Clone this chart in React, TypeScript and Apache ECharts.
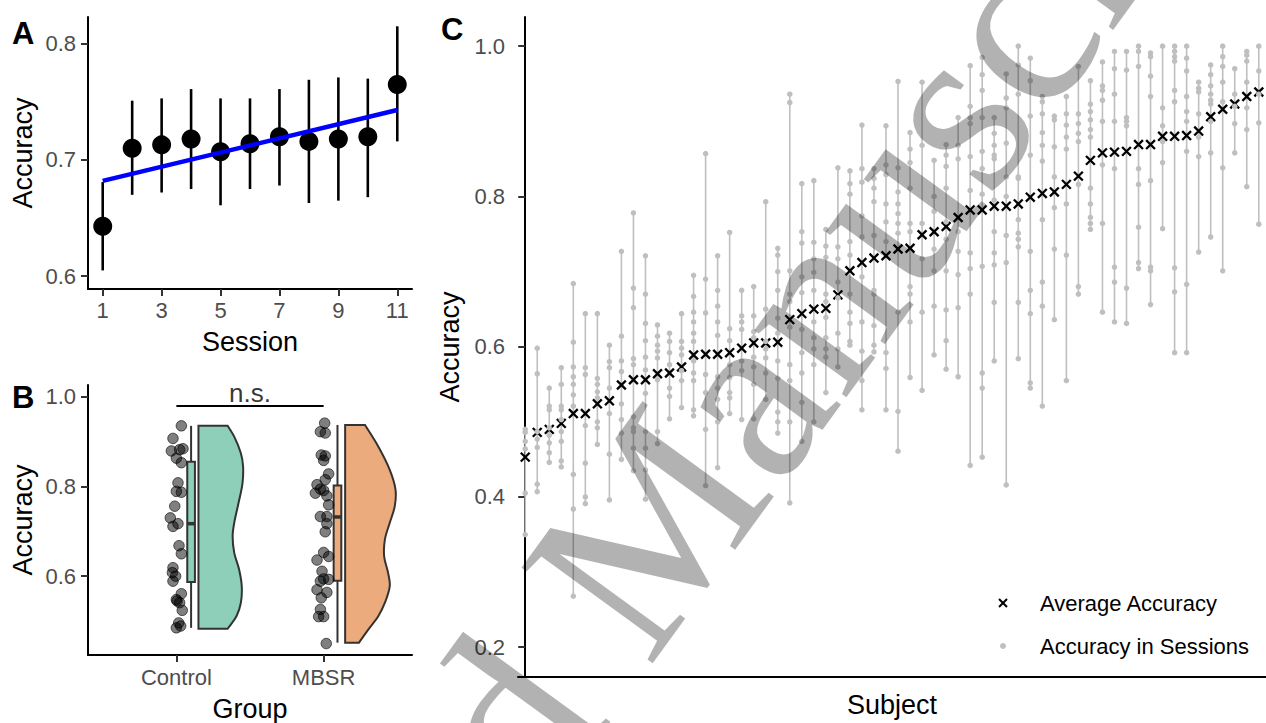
import React, { useEffect, useRef } from "react";
import * as echarts from "echarts";

const FONT = '"Liberation Sans", Arial, Helvetica, sans-serif';

// ---------- Panel A: accuracy by session ----------
const sessions = [1, 2, 3, 4, 5, 6, 7, 8, 9, 10, 11];
const sessionMean = [0.643, 0.71, 0.713, 0.718, 0.707, 0.714, 0.72, 0.716, 0.718, 0.72, 0.765];
const sessionLow = [0.605, 0.67, 0.672, 0.675, 0.661, 0.675, 0.678, 0.663, 0.665, 0.668, 0.716];
const sessionHigh = [0.681, 0.751, 0.753, 0.761, 0.753, 0.753, 0.761, 0.769, 0.771, 0.77, 0.815];
const trendLine = [
  [1, 0.682],
  [11, 0.743],
];
const sessionTicks = [1, 3, 5, 7, 9, 11];
const accTicksA = [0.6, 0.7, 0.8];

// ---------- Panel B: accuracy by group ----------
const groups = ["Control", "MBSR"];
// [jittered group position, accuracy]
const controlAcc = [
  [1.034, 0.935], [0.977, 0.907], [0.966, 0.879], [1.022, 0.882], [1.045, 0.884],
  [1.0, 0.863], [1.034, 0.853], [1.011, 0.808], [1.0, 0.789], [1.034, 0.787],
  [0.989, 0.756], [0.959, 0.73], [0.977, 0.711], [1.011, 0.717], [1.018, 0.668],
  [1.034, 0.65], [0.977, 0.619], [0.995, 0.6], [0.977, 0.589], [0.973, 0.608],
  [1.034, 0.561], [1.0, 0.548], [1.022, 0.541], [1.005, 0.545], [1.04, 0.524],
  [1.016, 0.496], [1.0, 0.485], [1.029, 0.489],
];
const mbsrAcc = [
  [2.007, 0.941], [1.978, 0.922], [2.011, 0.919], [1.984, 0.87], [2.011, 0.868],
  [2.0, 0.858], [2.034, 0.828], [2.011, 0.815], [1.955, 0.804], [1.978, 0.794],
  [2.0, 0.791], [1.944, 0.785], [2.022, 0.779], [2.034, 0.759], [1.978, 0.733],
  [2.022, 0.733], [2.022, 0.717], [2.011, 0.699], [2.0, 0.653], [2.034, 0.644],
  [1.955, 0.636], [1.989, 0.611], [2.0, 0.594], [1.978, 0.589], [2.034, 0.593],
  [1.955, 0.57], [2.022, 0.564], [1.984, 0.552], [1.978, 0.526], [1.966, 0.51],
  [2.0, 0.51], [2.018, 0.45],
];
// whisker low, q1, median, q3, whisker high
const controlBox = [0.485, 0.587, 0.717, 0.855, 0.935];
const mbsrBox = [0.452, 0.59, 0.732, 0.802, 0.937];
// [accuracy, half-violin density width]
const controlViolin = [
  [0.935, 0.198], [0.911, 0.243], [0.874, 0.288], [0.845, 0.303], [0.807, 0.299],
  [0.763, 0.272], [0.719, 0.243], [0.689, 0.232], [0.652, 0.243], [0.615, 0.276],
  [0.578, 0.294], [0.541, 0.288], [0.511, 0.258], [0.483, 0.198],
];
const mbsrViolin = [
  [0.937, 0.135], [0.889, 0.225], [0.837, 0.303], [0.793, 0.342], [0.756, 0.337],
  [0.719, 0.303], [0.682, 0.27], [0.644, 0.265], [0.607, 0.292], [0.578, 0.303],
  [0.541, 0.27], [0.511, 0.225], [0.481, 0.157], [0.452, 0.094],
];
const nsBracket = [
  [1, 0.979],
  [2, 0.979],
];
const accTicksB = [0.6, 0.8, 1.0];

// ---------- Panel C: accuracy per subject ----------
const subjectMean = [
  0.453, 0.486, 0.49, 0.498, 0.511, 0.511, 0.524, 0.528, 0.549, 0.556,
  0.556, 0.564, 0.565, 0.573, 0.589, 0.59, 0.59, 0.592, 0.598, 0.605,
  0.605, 0.606, 0.636, 0.644, 0.65, 0.651, 0.669, 0.701, 0.712, 0.718,
  0.721, 0.73, 0.731, 0.749, 0.753, 0.76, 0.772, 0.782, 0.782, 0.787,
  0.787, 0.79, 0.799, 0.804, 0.806, 0.816, 0.827, 0.848, 0.858, 0.859,
  0.86, 0.869, 0.869, 0.88, 0.88, 0.881, 0.887, 0.906, 0.916, 0.923,
  0.933, 0.939,
];
const subjectSessions = [
  [0.49, 0.486, 0.474, 0.464, 0.405, 0.35],
  [0.598, 0.564, 0.487, 0.477, 0.466, 0.417, 0.407],
  [0.545, 0.521, 0.516, 0.492, 0.482, 0.472, 0.459, 0.446],
  [0.572, 0.55, 0.521, 0.516, 0.503, 0.487, 0.474, 0.448, 0.44],
  [0.684, 0.606, 0.573, 0.56, 0.55, 0.536, 0.521, 0.43, 0.384, 0.268],
  [0.644, 0.572, 0.563, 0.495, 0.445, 0.4, 0.391],
  [0.644, 0.558, 0.55, 0.54, 0.532, 0.5, 0.492, 0.47],
  [0.602, 0.58, 0.572, 0.545, 0.511, 0.457, 0.396],
  [0.727, 0.614, 0.581, 0.567, 0.524, 0.503, 0.485, 0.45],
  [0.778, 0.678, 0.652, 0.584, 0.576, 0.507, 0.492, 0.487, 0.465, 0.435],
  [0.721, 0.67, 0.631, 0.608, 0.586, 0.569, 0.538, 0.487, 0.465, 0.436, 0.397],
  [0.629, 0.614, 0.602, 0.594, 0.585, 0.556, 0.487, 0.471],
  [0.618, 0.607, 0.592, 0.576, 0.545, 0.534, 0.504],
  [0.644, 0.607, 0.598, 0.589, 0.568, 0.555, 0.519],
  [0.695, 0.667, 0.646, 0.633, 0.618, 0.607, 0.581, 0.565, 0.555, 0.516, 0.508],
  [0.857, 0.69, 0.645, 0.563, 0.539, 0.49, 0.415],
  [0.721, 0.675, 0.654, 0.633, 0.615, 0.56, 0.545, 0.53, 0.5, 0.439],
  [0.752, 0.624, 0.608, 0.576, 0.559, 0.539, 0.532, 0.511],
  [0.675, 0.641, 0.633, 0.623, 0.581, 0.568, 0.503],
  [0.68, 0.641, 0.62, 0.612, 0.586, 0.573, 0.55, 0.504],
  [0.793, 0.65, 0.607, 0.597, 0.585, 0.565, 0.53],
  [0.731, 0.722, 0.7, 0.675, 0.638, 0.618, 0.581, 0.558, 0.513, 0.5, 0.485],
  [0.936, 0.925, 0.701, 0.67, 0.66, 0.626, 0.576, 0.555, 0.5, 0.392],
  [0.817, 0.753, 0.738, 0.693, 0.672, 0.623, 0.592, 0.565, 0.526, 0.474],
  [0.821, 0.739, 0.717, 0.699, 0.675, 0.633, 0.612, 0.597, 0.576, 0.5],
  [0.756, 0.734, 0.719, 0.67, 0.66, 0.639, 0.612, 0.597, 0.586, 0.539],
  [0.838, 0.733, 0.717, 0.686, 0.665, 0.618, 0.597, 0.573],
  [0.834, 0.817, 0.803, 0.74, 0.722, 0.67, 0.646, 0.631, 0.607, 0.602],
  [0.895, 0.837, 0.819, 0.774, 0.746, 0.693, 0.633, 0.594, 0.555, 0.516],
  [0.837, 0.824, 0.811, 0.793, 0.748, 0.675, 0.67, 0.628, 0.602, 0.593],
  [0.894, 0.842, 0.829, 0.79, 0.766, 0.74, 0.592, 0.571, 0.516],
  [0.953, 0.838, 0.806, 0.79, 0.777, 0.764, 0.751, 0.646, 0.514, 0.461],
  [0.885, 0.863, 0.845, 0.811, 0.764, 0.753, 0.68, 0.67, 0.633, 0.559],
  [0.952, 0.868, 0.764, 0.717, 0.646, 0.542],
  [0.848, 0.8, 0.78, 0.73, 0.701, 0.654, 0.589],
  [0.869, 0.855, 0.84, 0.811, 0.766, 0.743, 0.701, 0.649, 0.608, 0.57],
  [0.905, 0.868, 0.85, 0.753, 0.727, 0.696, 0.652, 0.56],
  [0.974, 0.92, 0.905, 0.897, 0.853, 0.808, 0.725, 0.704, 0.67, 0.442],
  [0.985, 0.962, 0.941, 0.905, 0.86, 0.837, 0.803, 0.707, 0.565, 0.545, 0.453],
  [0.905, 0.884, 0.868, 0.855, 0.85, 0.795, 0.753, 0.725, 0.709, 0.659, 0.581],
  [0.963, 0.931, 0.918, 0.871, 0.826, 0.8, 0.748, 0.712, 0.416],
  [1.0, 0.975, 0.936, 0.826, 0.824, 0.769, 0.751, 0.743, 0.733, 0.659, 0.584],
  [0.984, 0.954, 0.907, 0.855, 0.727, 0.675, 0.644, 0.552, 0.545],
  [0.933, 0.926, 0.91, 0.885, 0.868, 0.847, 0.769, 0.686, 0.654, 0.521],
  [0.907, 0.902, 0.866, 0.826, 0.785, 0.73, 0.636],
  [0.933, 0.91, 0.895, 0.879, 0.863, 0.79, 0.722, 0.555],
  [0.973, 0.91, 0.897, 0.884, 0.873, 0.816, 0.68, 0.67],
  [0.954, 0.923, 0.913, 0.902, 0.889, 0.879, 0.811, 0.79, 0.772, 0.764, 0.756],
  [0.979, 0.947, 0.941, 0.928, 0.9, 0.842, 0.764, 0.646],
  [0.993, 0.97, 0.936, 0.9, 0.837, 0.706, 0.686, 0.633],
  [0.993, 0.968, 0.905, 0.9, 0.894, 0.678, 0.631],
  [1.0, 0.993, 0.973, 0.837, 0.816, 0.759, 0.712, 0.704],
  [0.991, 0.986, 0.96, 0.933, 0.821, 0.706, 0.701, 0.656],
  [1.0, 0.918, 0.894, 0.873, 0.845, 0.757],
  [1.0, 0.993, 0.986, 0.98, 0.941, 0.926, 0.705, 0.673, 0.592],
  [1.0, 0.984, 0.967, 0.933, 0.913, 0.9, 0.86, 0.683, 0.592],
  [0.952, 0.944, 0.939, 0.91, 0.879, 0.853, 0.726],
  [0.975, 0.962, 0.947, 0.936, 0.928, 0.923, 0.9, 0.858, 0.746],
  [1.0, 0.986, 0.973, 0.952, 0.926, 0.838, 0.701],
  [0.97, 0.936, 0.92, 0.897, 0.858],
  [0.993, 0.988, 0.98, 0.952, 0.918, 0.889, 0.813],
  [1.0, 0.967, 0.936, 0.898, 0.763],
];
const accTicksC = [0.2, 0.4, 0.6, 0.8, 1.0];
const legendLabels = ["Average Accuracy", "Accuracy in Sessions"];
const watermarkWords = ["Accepted ", "Manuscript"];

const GRAY = "#bfbfbf";
const INK = "#333333";
const FILLS = ["#8dcfb9", "#ecab7c"];

function buildOption() {
  const axisLine = { show: true, lineStyle: { color: "#000", width: 2 } };
  const tick = (vals: number[]) => ({
    show: true,
    length: 7,
    lineStyle: { color: INK, width: 2 },
    customValues: vals,
  });
  const label = (vals: number[], margin: number, fmt: (v: number) => string) => ({
    show: true,
    color: "#4d4d4d",
    fontSize: 22,
    fontFamily: FONT,
    margin,
    customValues: vals,
    formatter: fmt,
  });
  const title = { color: "#000", fontSize: 27, fontFamily: FONT };
  const f1 = (v: number) => v.toFixed(1);

  const errData = sessions.map((s, i) => [s, sessionLow[i], sessionHigh[i]]);
  const meanA = sessions.map((s, i) => [s, sessionMean[i]]);

  const violins = [controlViolin, mbsrViolin];
  const boxes = [controlBox, mbsrBox];

  const rangeData = subjectSessions.map((s, i) => [i, Math.min(...s), Math.max(...s)]);
  const dotData: number[][] = [];
  subjectSessions.forEach((s, i) => s.forEach((v) => dotData.push([i, v])));
  const meanC = subjectMean.map((m, i) => [i, m]);

  const theta = (54 * Math.PI) / 180;
  const wmFont = `248px "Liberation Serif", "DejaVu Serif", serif`;
  const wmX = 581;
  const wmY = 620;

  return {
    animation: false,
    backgroundColor: "#ffffff",
    textStyle: { fontFamily: FONT },
    grid: [
      { left: 88, top: 17, width: 324, height: 272 },
      { left: 88, top: 385, width: 324, height: 271 },
      { left: 518, top: 17, width: 748, height: 666 },
    ],
    xAxis: [
      {
        gridIndex: 0,
        type: "value",
        min: 0.5,
        max: 11.5,
        axisLine,
        axisTick: tick(sessionTicks),
        axisLabel: label(sessionTicks, 10, (v: number) => String(v)),
        splitLine: { show: false },
        name: "Session",
        nameLocation: "middle",
        nameGap: 39,
        nameTextStyle: title,
      },
      {
        gridIndex: 1,
        type: "value",
        min: 0.4,
        max: 2.6,
        axisLine,
        axisTick: tick([1, 2]),
        axisLabel: label([1, 2], 11, (v: number) => groups[Math.round(v) - 1] || ""),
        splitLine: { show: false },
        name: "Group",
        nameLocation: "middle",
        nameGap: 40,
        nameTextStyle: title,
      },
      {
        gridIndex: 2,
        type: "value",
        min: -0.6,
        max: subjectMean.length - 1 + 0.6,
        axisLine,
        axisTick: { show: false },
        axisLabel: { show: false },
        splitLine: { show: false },
        name: "Subject",
        nameLocation: "middle",
        nameGap: 14,
        nameTextStyle: title,
      },
    ],
    yAxis: [
      {
        gridIndex: 0,
        type: "value",
        min: 0.589,
        max: 0.823,
        axisLine,
        axisTick: tick(accTicksA),
        axisLabel: label(accTicksA, 12, f1),
        splitLine: { show: false },
        name: "Accuracy",
        nameLocation: "middle",
        nameRotate: 90,
        nameGap: 52,
        nameTextStyle: title,
      },
      {
        gridIndex: 1,
        type: "value",
        min: 0.4245,
        max: 1.026,
        axisLine,
        axisTick: tick(accTicksB),
        axisLabel: label(accTicksB, 12, f1),
        splitLine: { show: false },
        name: "Accuracy",
        nameLocation: "middle",
        nameRotate: 90,
        nameGap: 52,
        nameTextStyle: title,
      },
      {
        gridIndex: 2,
        type: "value",
        min: 0.1604,
        max: 1.0388,
        axisLine,
        axisTick: tick(accTicksC),
        axisLabel: label(accTicksC, 13, f1),
        splitLine: { show: false },
        name: "Accuracy",
        nameLocation: "middle",
        nameRotate: 90,
        nameGap: 52,
        nameTextStyle: title,
      },
    ],
    series: [
      // ----- Panel A -----
      {
        type: "custom",
        xAxisIndex: 0,
        yAxisIndex: 0,
        silent: true,
        data: errData,
        renderItem: (_p: any, api: any) => {
          const a = api.coord([api.value(0), api.value(1)]);
          const b = api.coord([api.value(0), api.value(2)]);
          return {
            type: "line",
            shape: { x1: a[0], y1: a[1], x2: b[0], y2: b[1] },
            style: { stroke: "#000", lineWidth: 2.6 },
          };
        },
      },
      {
        type: "line",
        xAxisIndex: 0,
        yAxisIndex: 0,
        silent: true,
        data: trendLine,
        symbol: "none",
        lineStyle: { color: "#0000ff", width: 4.5 },
      },
      {
        type: "scatter",
        xAxisIndex: 0,
        yAxisIndex: 0,
        silent: true,
        data: meanA,
        symbolSize: 19,
        itemStyle: { color: "#000", opacity: 1 },
      },
      // ----- Panel B -----
      {
        type: "custom",
        xAxisIndex: 1,
        yAxisIndex: 1,
        silent: true,
        data: [[0], [1]],
        renderItem: (p: any, api: any) => {
          const g = p.dataIndex;
          const base = g + 1 + (g === 0 ? 0.15 : 0.146);
          const prof = violins[g];
          const top = api.coord([base, prof[0][0]]);
          const bot = api.coord([base, prof[prof.length - 1][0]]);
          const right = prof.map(([v, w]) => api.coord([base + w, v]));
          const pts = [top, top, right[0], ...right, right[right.length - 1], bot, bot];
          return {
            type: "polygon",
            shape: { points: pts, smooth: 0.35 },
            style: { fill: FILLS[g], stroke: INK, lineWidth: 2 },
          };
        },
      },
      {
        type: "custom",
        xAxisIndex: 1,
        yAxisIndex: 1,
        silent: true,
        data: [[0], [1]],
        renderItem: (p: any, api: any) => {
          const g = p.dataIndex;
          const c = g + 1 + (g === 0 ? 0.1 : 0.094);
          const hw = 0.026;
          const [lo, q1, med, q3, hi] = boxes[g];
          const wTop = api.coord([c, hi]);
          const wBot = api.coord([c, lo]);
          const tl = api.coord([c - hw, q3]);
          const br = api.coord([c + hw, q1]);
          const ml = api.coord([c - hw, med]);
          const mr = api.coord([c + hw, med]);
          return {
            type: "group",
            children: [
              {
                type: "line",
                shape: { x1: wTop[0], y1: wTop[1], x2: wBot[0], y2: wBot[1] },
                style: { stroke: INK, lineWidth: 2 },
              },
              {
                type: "rect",
                shape: { x: tl[0], y: tl[1], width: br[0] - tl[0], height: br[1] - tl[1] },
                style: { fill: FILLS[g], stroke: INK, lineWidth: 2 },
              },
              {
                type: "line",
                shape: { x1: ml[0], y1: ml[1], x2: mr[0], y2: mr[1] },
                style: { stroke: INK, lineWidth: 3.5 },
              },
            ],
          };
        },
      },
      {
        type: "scatter",
        xAxisIndex: 1,
        yAxisIndex: 1,
        silent: true,
        data: [...controlAcc, ...mbsrAcc],
        symbolSize: 10.5,
        itemStyle: {
          color: "rgba(0,0,0,0.5)",
          borderColor: "rgba(0,0,0,0.6)",
          borderWidth: 1,
          opacity: 1,
        },
      },
      {
        type: "line",
        xAxisIndex: 1,
        yAxisIndex: 1,
        silent: true,
        data: nsBracket,
        symbol: "none",
        lineStyle: { color: "#000", width: 2 },
      },
      {
        type: "scatter",
        xAxisIndex: 1,
        yAxisIndex: 1,
        silent: true,
        data: [[(nsBracket[0][0] + nsBracket[1][0]) / 2, nsBracket[0][1]]],
        symbolSize: 0,
        label: {
          show: true,
          position: "top",
          distance: 0,
          formatter: "n.s.",
          color: "#000",
          fontSize: 26,
          fontFamily: FONT,
        },
      },
      // ----- Panel C -----
      {
        type: "custom",
        xAxisIndex: 2,
        yAxisIndex: 2,
        silent: true,
        data: rangeData,
        renderItem: (_p: any, api: any) => {
          const a = api.coord([api.value(0), api.value(1)]);
          const b = api.coord([api.value(0), api.value(2)]);
          return {
            type: "line",
            shape: { x1: a[0], y1: a[1], x2: b[0], y2: b[1] },
            style: { stroke: GRAY, lineWidth: 1.6 },
          };
        },
      },
      {
        type: "scatter",
        xAxisIndex: 2,
        yAxisIndex: 2,
        silent: true,
        data: dotData,
        symbolSize: 5.5,
        itemStyle: { color: GRAY, opacity: 1 },
      },
      {
        type: "custom",
        xAxisIndex: 2,
        yAxisIndex: 2,
        silent: true,
        data: meanC,
        renderItem: (_p: any, api: any) => {
          const c = api.coord([api.value(0), api.value(1)]);
          const s = 4.4;
          return {
            type: "group",
            children: [
              {
                type: "line",
                shape: { x1: c[0] - s, y1: c[1] - s, x2: c[0] + s, y2: c[1] + s },
                style: { stroke: "#000", lineWidth: 2.3 },
              },
              {
                type: "line",
                shape: { x1: c[0] - s, y1: c[1] + s, x2: c[0] + s, y2: c[1] - s },
                style: { stroke: "#000", lineWidth: 2.3 },
              },
            ],
          };
        },
      },
    ],
    graphic: [
      // panel tags
      { type: "text", left: 12, top: 18, style: { text: "A", font: `bold 31px ${FONT}`, fill: "#000" } },
      { type: "text", left: 12, top: 382, style: { text: "B", font: `bold 31px ${FONT}`, fill: "#000" } },
      { type: "text", left: 441, top: 14, style: { text: "C", font: `bold 31px ${FONT}`, fill: "#000" } },
      // legend of panel C
      {
        type: "group",
        children: [
          { type: "line", shape: { x1: 999, y1: 599, x2: 1007, y2: 607 }, style: { stroke: "#000", lineWidth: 2 } },
          { type: "line", shape: { x1: 999, y1: 607, x2: 1007, y2: 599 }, style: { stroke: "#000", lineWidth: 2 } },
          { type: "circle", shape: { cx: 1003, cy: 646, r: 3 }, style: { fill: GRAY } },
          {
            type: "text",
            x: 1040,
            y: 603,
            style: { text: legendLabels[0], font: `22px ${FONT}`, fill: "#000", verticalAlign: "middle" },
          },
          {
            type: "text",
            x: 1040,
            y: 646,
            style: { text: legendLabels[1], font: `22px ${FONT}`, fill: "#000", verticalAlign: "middle" },
          },
        ],
      },
      // watermark
      {
        type: "text",
        x: wmX,
        y: wmY,
        rotation: theta,
        silent: true,
        z: 100,
        style: {
          text: watermarkWords[1],
          font: wmFont,
          fill: "rgba(0,0,0,0.3)",
          align: "left",
          verticalAlign: "middle",
        },
      },
      {
        type: "text",
        x: wmX,
        y: wmY,
        rotation: theta,
        silent: true,
        z: 100,
        style: {
          text: watermarkWords[0],
          font: wmFont,
          fill: "rgba(0,0,0,0.3)",
          align: "right",
          verticalAlign: "middle",
        },
      },
    ],
  };
}

export default function App() {
  const ref = useRef<HTMLDivElement | null>(null);
  useEffect(() => {
    if (!ref.current) return;
    const chart = echarts.init(ref.current, undefined, { renderer: "svg" });
    chart.setOption(buildOption() as any);
    return () => chart.dispose();
  }, []);
  return (
    <div
      ref={ref}
      style={{ position: "fixed", left: 0, top: 0, width: 1266, height: 723, background: "#fff" }}
    />
  );
}
